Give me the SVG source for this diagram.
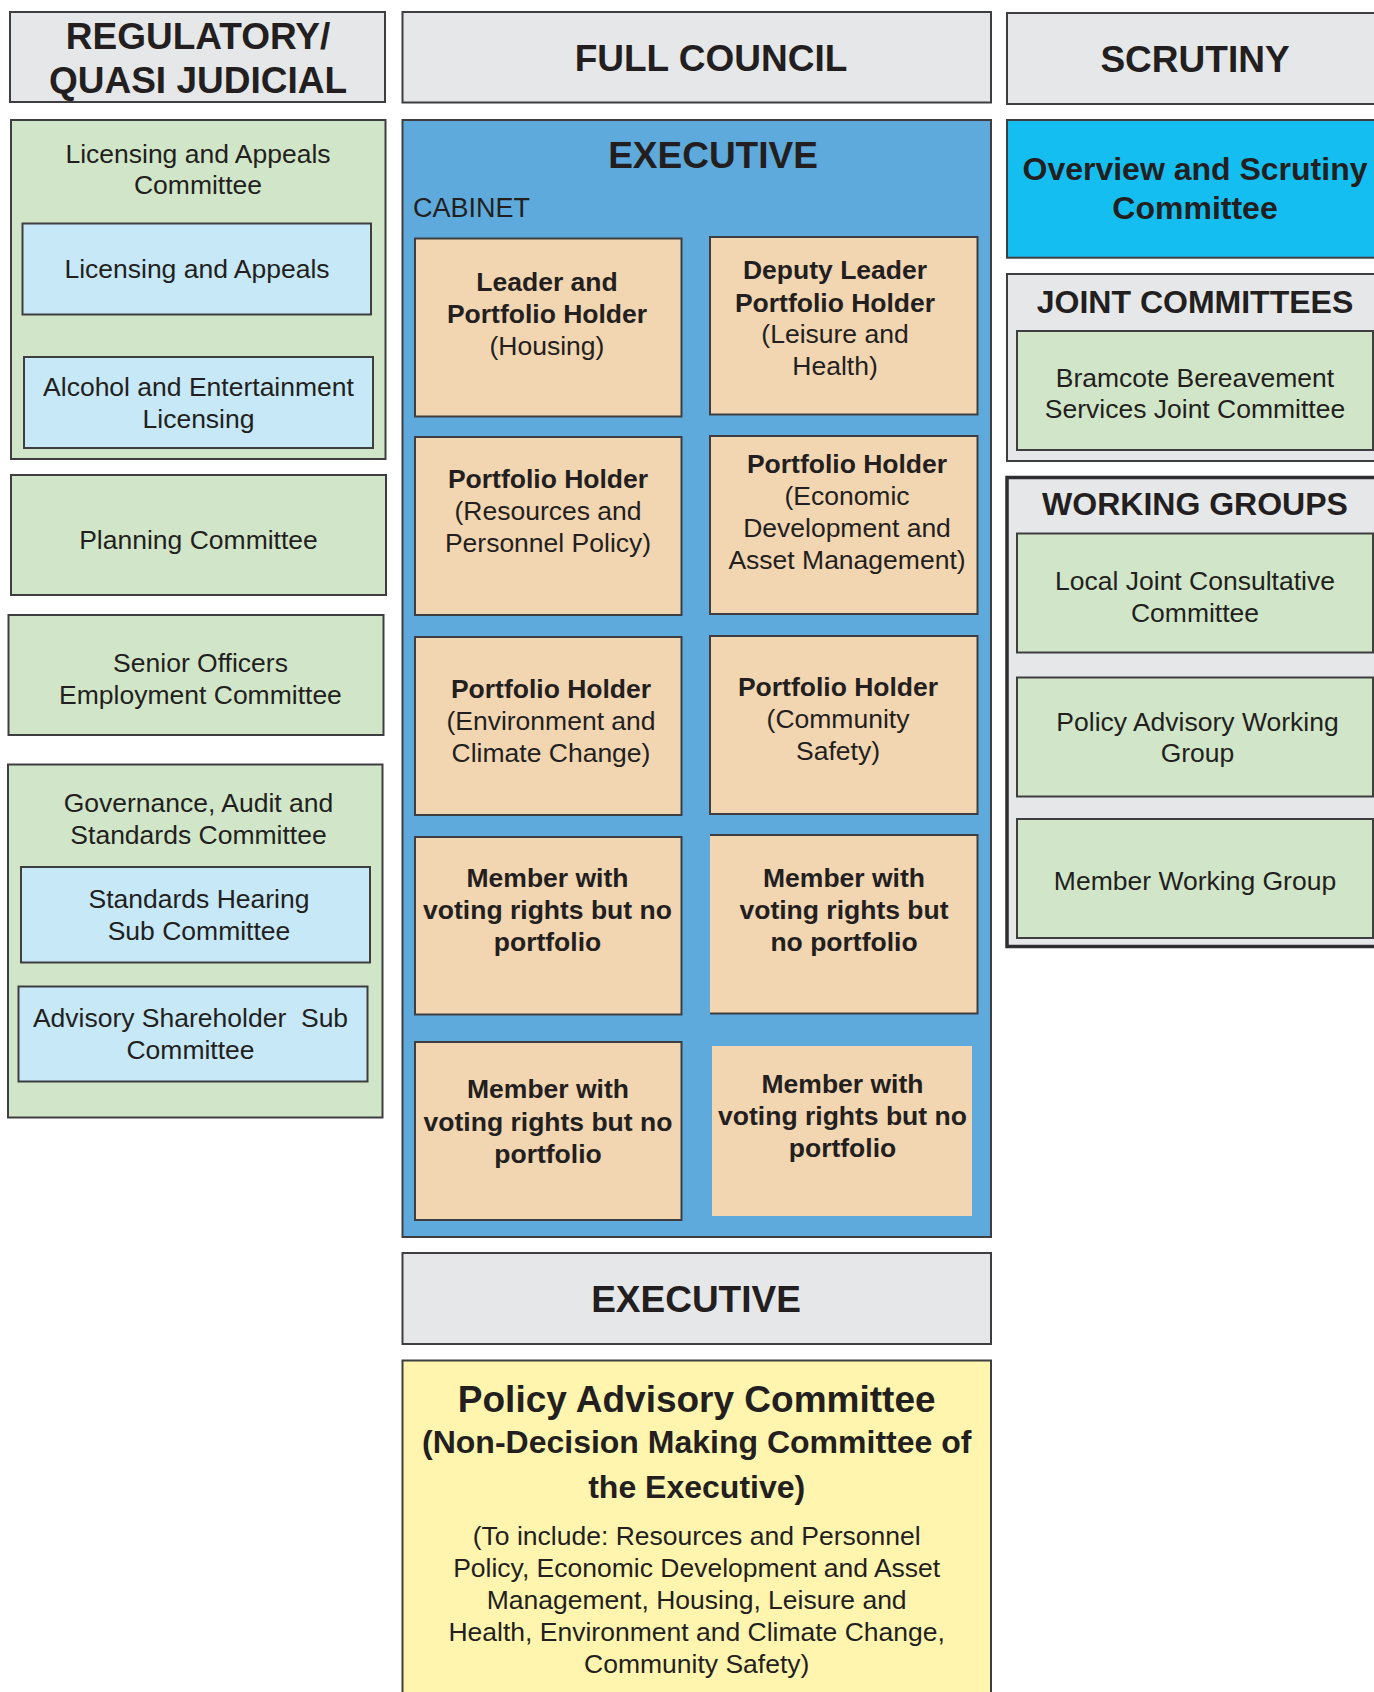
<svg xmlns="http://www.w3.org/2000/svg" width="1374" height="1692" viewBox="0 0 1374 1692">
<style>
text{font-family:"Liberation Sans",Arial,sans-serif;fill:#231F20;text-anchor:middle}
.r{font-size:26.5px}
.b{font-size:26.5px;font-weight:bold}
.h{font-size:37px;font-weight:bold}
.s{font-size:32px;font-weight:bold}
.box{stroke:#3E3E40;stroke-width:2}
.hdr{fill:#E6E7E8}
.grn{fill:#D1E6C8}
.lb{fill:#C6E8F7}
.pch{fill:#F2D5B1}
.exe{fill:#5EAADC}
.ovr{fill:#14BEF0}
.yel{fill:#FFF5AE}
</style>
<rect width="1374" height="1692" fill="#FFFFFF"/>

<g id="hdr-regulatory">
<rect class="box hdr" x="10" y="12" width="375" height="90"/>
<text class="h" x="198" y="49">REGULATORY/</text>
<text class="h" x="198" y="92.5">QUASI JUDICIAL</text>
</g>
<g id="hdr-full-council">
<rect class="box hdr" x="402.5" y="12" width="588.5" height="90.5"/>
<text class="h" x="711" y="71">FULL COUNCIL</text>
</g>
<g id="hdr-scrutiny">
<rect class="box hdr" x="1007" y="13" width="380" height="91"/>
<text class="h" x="1195" y="72">SCRUTINY</text>
</g>

<g id="licensing-appeals-committee">
<rect class="box grn" x="11" y="120" width="374.5" height="339"/>
<text class="r" x="198"><tspan x="198" y="163">Licensing and Appeals</tspan><tspan x="198" y="194">Committee</tspan></text>
</g>
<g id="licensing-appeals">
<rect class="box lb" x="22.5" y="223.5" width="348.5" height="91"/>
<text class="r" x="197" y="278">Licensing and Appeals</text>
</g>
<g id="alcohol-entertainment">
<rect class="box lb" x="24" y="357" width="349" height="91"/>
<text class="r"><tspan x="198.5" y="396">Alcohol and Entertainment</tspan><tspan x="198.5" y="428">Licensing</tspan></text>
</g>
<g id="planning">
<rect class="box grn" x="11" y="475" width="375" height="120"/>
<text class="r" x="198.5" y="549">Planning Committee</text>
</g>
<g id="senior-officers">
<rect class="box grn" x="8.5" y="615" width="375" height="120"/>
<text class="r"><tspan x="200.5" y="671.5">Senior Officers</tspan><tspan x="200.5" y="704">Employment Committee</tspan></text>
</g>
<g id="governance">
<rect class="box grn" x="8" y="764.5" width="374.5" height="353"/>
<text class="r"><tspan x="198.5" y="812">Governance, Audit and</tspan><tspan x="198.5" y="844">Standards Committee</tspan></text>
</g>
<g id="standards-hearing">
<rect class="box lb" x="21" y="867" width="349" height="95.5"/>
<text class="r"><tspan x="199" y="908">Standards Hearing</tspan><tspan x="199" y="940">Sub Committee</tspan></text>
</g>
<g id="advisory-shareholder">
<rect class="box lb" x="18.5" y="986.5" width="349" height="95"/>
<text class="r" style="white-space:pre"><tspan x="190.5" y="1027">Advisory Shareholder  Sub</tspan><tspan x="190.5" y="1059">Committee</tspan></text>
</g>

<g id="executive">
<rect class="box exe" x="402.5" y="120" width="588.5" height="1117"/>
<text class="h" x="713" y="168">EXECUTIVE</text>
<text class="r" x="413" y="217" style="text-anchor:start;font-size:27px">CABINET</text>
</g>
<g id="leader">
<rect class="box pch" x="415" y="238.5" width="266.5" height="178"/>
<text class="b"><tspan x="547" y="291">Leader and</tspan><tspan x="547" y="322.7">Portfolio Holder</tspan></text>
<text class="r" x="547" y="355">(Housing)</text>
</g>
<g id="deputy-leader">
<rect class="box pch" x="710" y="237" width="267.5" height="177.5"/>
<text class="b"><tspan x="835" y="279.3">Deputy Leader</tspan><tspan x="835" y="311.7">Portfolio Holder</tspan></text>
<text class="r"><tspan x="835" y="343.3">(Leisure and</tspan><tspan x="835" y="375">Health)</tspan></text>
</g>
<g id="resources">
<rect class="box pch" x="415" y="437" width="266.5" height="178"/>
<text class="b" x="548" y="487.7">Portfolio Holder</text>
<text class="r"><tspan x="548" y="520">(Resources and</tspan><tspan x="548" y="552">Personnel Policy)</tspan></text>
</g>
<g id="economic">
<rect class="box pch" x="710" y="436" width="267.5" height="178"/>
<text class="b" x="847" y="473">Portfolio Holder</text>
<text class="r"><tspan x="847" y="505">(Economic</tspan><tspan x="847" y="537">Development and</tspan><tspan x="847" y="569.3">Asset Management)</tspan></text>
</g>
<g id="environment">
<rect class="box pch" x="415" y="637" width="266.5" height="178"/>
<text class="b" x="551" y="697.7">Portfolio Holder</text>
<text class="r"><tspan x="551" y="730">(Environment and</tspan><tspan x="551" y="761.7">Climate Change)</tspan></text>
</g>
<g id="community">
<rect class="box pch" x="710" y="636" width="267.5" height="178"/>
<text class="b" x="838" y="695.7">Portfolio Holder</text>
<text class="r"><tspan x="838" y="728">(Community</tspan><tspan x="838" y="760">Safety)</tspan></text>
</g>
<g id="member-1">
<rect class="box pch" x="415" y="837" width="266.5" height="177.5"/>
<text class="b"><tspan x="547.5" y="886.7">Member with</tspan><tspan x="547.5" y="919">voting rights but no</tspan><tspan x="547.5" y="950.7">portfolio</tspan></text>
</g>
<g id="member-2">
<rect class="pch" x="710" y="835" width="267.5" height="178.5"/>
<path d="M710 835H977.5V1013.5H710" fill="none" stroke="#3E3E40" stroke-width="2"/>
<text class="b"><tspan x="844" y="886.7">Member with</tspan><tspan x="844" y="919">voting rights but</tspan><tspan x="844" y="950.7">no portfolio</tspan></text>
</g>
<g id="member-3">
<rect class="box pch" x="415" y="1042" width="266.5" height="178"/>
<text class="b"><tspan x="548" y="1098.3">Member with</tspan><tspan x="548" y="1130.7">voting rights but no</tspan><tspan x="548" y="1163.3">portfolio</tspan></text>
</g>
<g id="member-4">
<rect class="pch" x="712" y="1046" width="260" height="170"/>
<text class="b"><tspan x="842.5" y="1092.7">Member with</tspan><tspan x="842.5" y="1125">voting rights but no</tspan><tspan x="842.5" y="1156.7">portfolio</tspan></text>
</g>

<g id="hdr-executive">
<rect class="box hdr" x="402.5" y="1253" width="588.5" height="91"/>
<text class="h" x="696" y="1311.7">EXECUTIVE</text>
</g>
<g id="policy-advisory-committee">
<rect class="box yel" x="402.5" y="1360.5" width="588.5" height="345"/>
<text class="h" x="696.7" y="1411.7">Policy Advisory Committee</text>
<text style="font-size:32px;font-weight:bold"><tspan x="696.7" y="1453.3">(Non-Decision Making Committee of</tspan><tspan x="696.7" y="1498.3">the Executive)</tspan></text>
<text class="r"><tspan x="696.7" y="1545">(To include: Resources and Personnel</tspan><tspan x="696.7" y="1576.7">Policy, Economic Development and Asset</tspan><tspan x="696.7" y="1609">Management, Housing, Leisure and</tspan><tspan x="696.7" y="1641">Health, Environment and Climate Change,</tspan><tspan x="696.7" y="1672.7">Community Safety)</tspan></text>
</g>

<g id="overview-scrutiny">
<rect class="box ovr" x="1007" y="120" width="380" height="137.7"/>
<text class="s"><tspan x="1195" y="180">Overview and Scrutiny</tspan><tspan x="1195" y="219.3">Committee</tspan></text>
</g>
<g id="joint-committees">
<rect class="box hdr" x="1007" y="274" width="380" height="187"/>
<text class="s" x="1195" y="312.7">JOINT COMMITTEES</text>
</g>
<g id="bramcote">
<rect class="box grn" x="1017" y="331" width="356" height="119"/>
<text class="r"><tspan x="1195" y="386.7">Bramcote Bereavement</tspan><tspan x="1195" y="418.3">Services Joint Committee</tspan></text>
</g>
<g id="working-groups">
<rect class="hdr" x="1007" y="477.5" width="380" height="469" stroke="#2E2E30" stroke-width="3.5"/>
<text class="s" x="1195" y="515">WORKING GROUPS</text>
</g>
<g id="local-joint">
<rect class="box grn" x="1017" y="533.5" width="356" height="119"/>
<text class="r"><tspan x="1195" y="590">Local Joint Consultative</tspan><tspan x="1195" y="622.3">Committee</tspan></text>
</g>
<g id="policy-advisory-wg">
<rect class="box grn" x="1017" y="677.5" width="356" height="119"/>
<text class="r"><tspan x="1197.5" y="730.7">Policy Advisory Working</tspan><tspan x="1197.5" y="761.7">Group</tspan></text>
</g>
<g id="member-wg">
<rect class="box grn" x="1017" y="819" width="356" height="119"/>
<text class="r" x="1195" y="890">Member Working Group</text>
</g>
<g id="connectors"></g>
</svg>
